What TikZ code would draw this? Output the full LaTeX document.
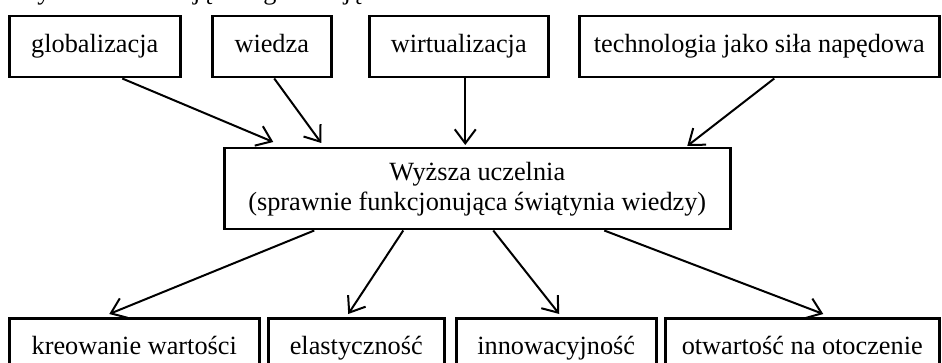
\documentclass[tikz,border=0pt]{standalone}
\usepackage{fontspec}
\setmainfont{Liberation Serif}
\usetikzlibrary{arrows.meta}

\begin{document}
\begin{tikzpicture}[x=1pt, y=-1pt,
  txt/.style={font=\fontsize{26.3}{30}\selectfont},
  box/.style={txt, draw, line width=2.5pt, anchor=north west, inner sep=0pt,
    minimum height=61pt, text height=18pt, text depth=6pt, align=center},
  link/.style={line width=2pt, -{Straight Barb[length=14pt, width=21pt]}}
]
\useasboundingbox (0,0) rectangle (942,363);
\clip (0,0) rectangle (942,363);

% caption line above the diagram
\node[txt, anchor=base west, inner sep=0pt] (caption) at (8,-0.5) {Czynniki kształtujące organizację};

% driving forces
\node[box, minimum width=171pt] (glob) at (8,15)   {globalizacja};
\node[box, minimum width=119pt] (wied) at (211,15) {wiedza};
\node[box, minimum width=179pt] (wirt) at (368,15) {wirtualizacja};
\node[box, minimum width=360pt] (tech) at (578,15) {technologia jako siła napędowa};

% the university
\node[txt, draw, line width=2.5pt, anchor=north west, inner sep=0pt,
      minimum width=506pt, minimum height=81pt, align=center] (uni) at (223,147)
  {Wyższa uczelnia\\(sprawnie funkcjonująca świątynia wiedzy)};

% outcomes
\node[box, minimum width=250pt] (kreo) at (8,317)   {kreowanie wartości};
\node[box, minimum width=176pt] (elas) at (267,317) {elastyczność};
\node[box, minimum width=200pt] (inno) at (455,317) {innowacyjność};
\node[box, minimum width=274pt] (otwa) at (664,317) {otwartość na otoczenie};

% incoming arrows
\draw[link] ([xshift=27.5pt]glob.south) -- ([xshift=-204pt, yshift=5pt]uni.north);
\draw[link] ([xshift=2.5pt]wied.south)  -- ([xshift=-156pt, yshift=4pt]uni.north);
\draw[link] ([xshift=6.5pt]wirt.south)  -- ([xshift=-12pt,  yshift=2pt]uni.north);
\draw[link] ([xshift=15pt]tech.south)   -- ([xshift=210pt,  yshift=1pt]uni.north);

% outgoing arrows
\draw[link] ([xshift=-163pt]uni.south) -- ([xshift=-25pt, yshift=3pt]kreo.north);
\draw[link] ([xshift=-74pt]uni.south)  -- ([xshift=-8pt,  yshift=3pt]elas.north);
\draw[link] ([xshift=16pt]uni.south)   -- ([xshift=3pt,   yshift=3pt]inno.north);
\draw[link] ([xshift=127pt]uni.south)  -- ([xshift=21pt,  yshift=3pt]otwa.north);
\end{tikzpicture}
\end{document}
